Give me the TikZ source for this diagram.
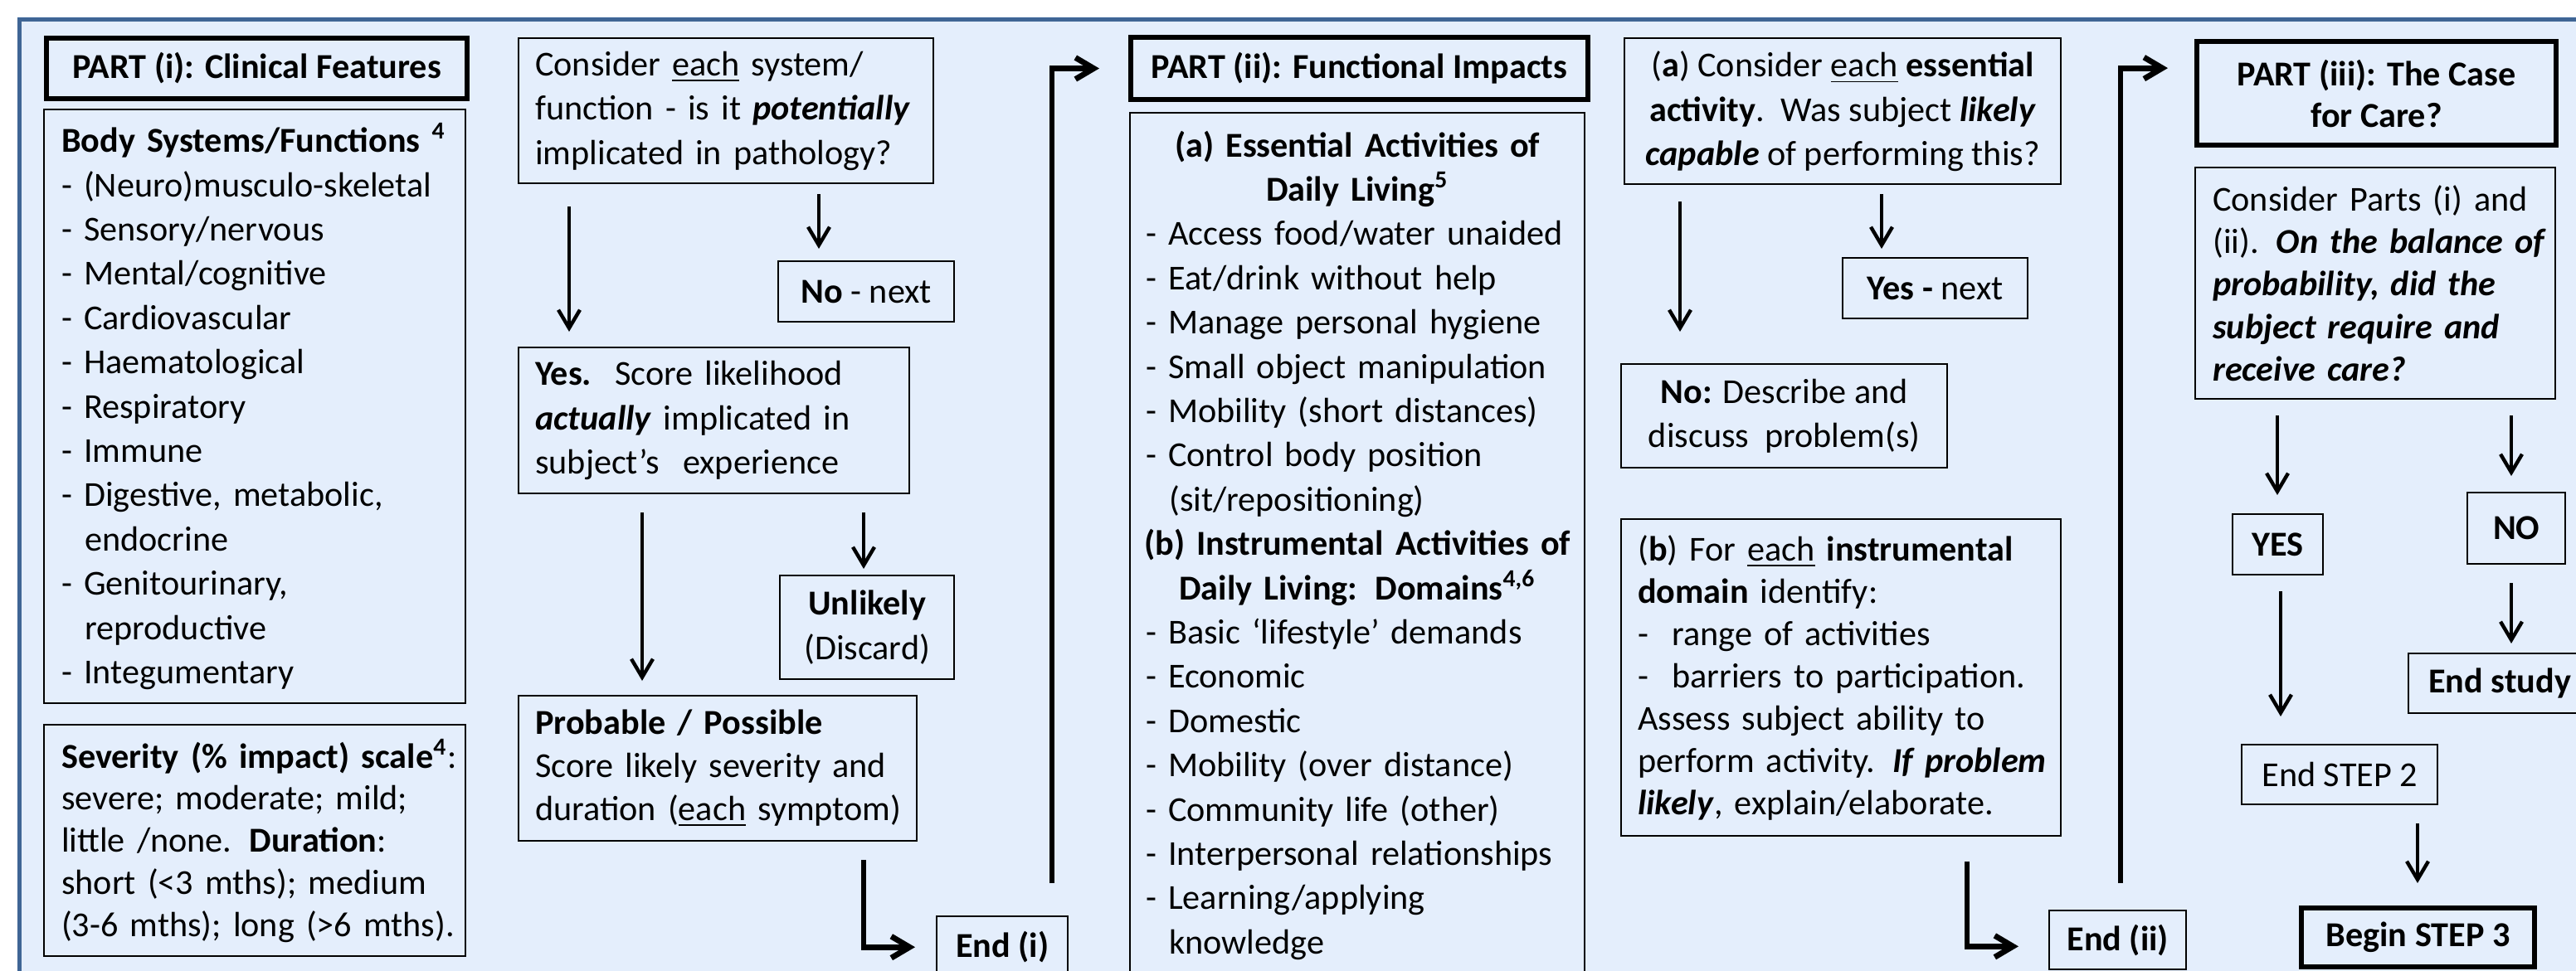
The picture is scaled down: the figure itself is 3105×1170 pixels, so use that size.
\documentclass[tikz,border=0pt]{standalone}
\usepackage{fontspec}
\setmainfont{Carlito}
\usetikzlibrary{arrows.meta}
\definecolor{bgfill}{HTML}{E4EEFC}
\definecolor{frameblue}{HTML}{3F6595}
\newcommand\myfs{\fontsize{10.55pt}{13.35pt}\selectfont}
\begin{document}
\begin{tikzpicture}[x=0.25pt, y=-0.25pt,
  bx/.style={draw, line width=0.6pt, anchor=north west, inner sep=0pt, font=\myfs},
  tbx/.style={bx, line width=1.5pt},
  arr/.style={line width=1.1pt, -{Straight Barb[length=5.5pt,width=6.5pt]}},
  thk/.style={line width=1.7pt, -{Straight Barb[length=5.5pt,width=6.5pt]}}]
\useasboundingbox (0,0) rectangle (3105,1170);
\clip (0,0) rectangle (3105,1170);
\fill[bgfill] (21,20) rectangle (3150,1200);
\draw[frameblue, line width=1.25pt] (23.5,1200) -- (23.5,23.5) -- (3150,23.5);

% ---------- PART (i)
\node[tbx, minimum width=126.75pt, minimum height=18.25pt] (p1) at (53,43) {\bfseries PART (i): Clinical Features};
\node[bx, text width=127pt, minimum height=179pt, align=left] (body) at (52,131) {\leftskip=5.25pt
\textbf{Body Systems/Functions \textsuperscript{4}}\\
- (Neuro)musculo-skeletal\\
- Sensory/nervous\\
- Mental/cognitive\\
- Cardiovascular\\
- Haematological\\
- Respiratory\\
- Immune\\
- Digestive, metabolic,\\
\hspace*{7pt}endocrine\\
- Genitourinary,\\
\hspace*{7pt}reproductive\\
- Integumentary\par};
\node[bx, text width=127pt, minimum height=69.75pt, align=left, font=\fontsize{10.55pt}{12.7pt}\selectfont] (sev) at (52,873) {\leftskip=5.25pt
\textbf{Severity (\% impact) scale\textsuperscript{4}}:\\
severe; moderate; mild;\\
little /none. \textbf{Duration}:\\
short (<3 mths); medium\\
(3-6 mths); long (>6 mths).\par};
\node[bx, text width=125pt, minimum height=43.75pt, align=left] (cons) at (624,45) {\leftskip=5pt
Consider \underline{each} system/\\
function - is it \textbf{\textit{potentially}}\\
implicated in pathology?\par};
\node[bx, minimum width=53pt, minimum height=18.25pt] (nonext) at (937,314) {\textbf{No} - next};
\node[bx, text width=117.75pt, minimum height=44pt, align=left] (yes) at (624,418) {\leftskip=5pt
\textbf{Yes.}\ \ Score likelihood\\
\textbf{\textit{actually}} implicated in\\
subject’s\ \ experience\par};
\node[bx, minimum width=52.5pt, minimum height=31.25pt, align=center] (unlik) at (939,693) {\textbf{Unlikely}\\(Discard)};
\node[bx, text width=120pt, minimum height=43.75pt, align=left, font=\fontsize{10.55pt}{13pt}\selectfont] (prob) at (624,838) {\leftskip=5pt
\textbf{Probable / Possible}\\
Score likely severity and\\
duration (\underline{each} symptom)\par};
\node[bx, minimum width=39.5pt, minimum height=18.5pt] (endi) at (1128,1104) {\textbf{End (i)}};

% ---------- PART (ii)
\node[tbx, minimum width=137.75pt, minimum height=18.75pt] (p2) at (1360,42) {\bfseries PART (ii): Functional Impacts};
\node[bx, text width=137pt, minimum height=260.75pt, align=left] (ess) at (1361,135) {%
{\centering\bfseries (a) Essential Activities of\\Daily Living\textsuperscript{5}\par}
\leftskip=4.75pt
- Access food/water unaided\\
- Eat/drink without help\\
- Manage personal hygiene\\
- Small object manipulation\\
- Mobility (short distances)\\
- Control body position\\
\hspace*{7pt}(sit/repositioning)\par
{\centering\bfseries (b) Instrumental Activities of\\Daily Living: Domains\textsuperscript{4,6}\par}
- Basic ‘lifestyle’ demands\\
- Economic\\
- Domestic\\
- Mobility (over distance)\\
- Community life (other)\\
- Interpersonal relationships\\
- Learning/applying\\
\hspace*{7pt}knowledge\par};
\node[bx, minimum width=131.5pt, minimum height=44pt, align=center] (consa) at (1957,45) {(\textbf{a}) Consider \underline{each} \textbf{essential}\\\textbf{activity}.\ \ Was subject \textbf{\textit{likely}}\\\textbf{\textit{capable}} of performing this?};
\node[bx, minimum width=55.75pt, minimum height=18.25pt] (yesnext) at (2220,310) {\textbf{Yes -} next};
\node[bx, minimum width=98.25pt, minimum height=31.25pt, align=center] (nodesc) at (1953,438) {\textbf{No:} Describe and\\discuss\ \ problem(s)};
\node[bx, text width=132.5pt, minimum height=95.5pt, align=left, font=\fontsize{10.55pt}{12.75pt}\selectfont] (bbox) at (1953,625) {\leftskip=5pt
(\textbf{b}) For \underline{each} \textbf{instrumental}\\
\textbf{domain} identify:\\
-\ \ range of activities\\
-\ \ barriers to participation.\\
Assess subject ability to\\
perform activity. \textbf{\textit{If problem}}\\
\textbf{\textit{likely}}, explain/elaborate.\par};
\node[bx, minimum width=41.25pt, minimum height=17.75pt] (endii) at (2469,1097) {\textbf{End (ii)}};

% ---------- PART (iii)
\node[tbx, minimum width=108.25pt, minimum height=31.25pt, align=center, font=\fontsize{10.55pt}{12.5pt}\selectfont\bfseries] (p3) at (2645,47) {PART (iii): The Case\\for Care?};
\node[bx, text width=108.5pt, minimum height=69.75pt, align=left, font=\fontsize{10.55pt}{12.8pt}\selectfont] (consp) at (2645,201) {\leftskip=5.25pt
Consider Parts (i) and\\
(ii). \textbf{\textit{On the balance of}}\\
\textbf{\textit{probability, did the}}\\
\textbf{\textit{subject require and}}\\
\textbf{\textit{receive care?}}\par};
\node[bx, minimum width=27.25pt, minimum height=18.25pt] (yesb) at (2690,619) {\textbf{YES}};
\node[bx, minimum width=29.5pt, minimum height=21.5pt] (nob) at (2973,593) {\textbf{NO}};
\node[bx, minimum width=55pt, minimum height=18pt] (endstudy) at (2902,787) {\textbf{End study}};
\node[bx, minimum width=59pt, minimum height=18pt] (endstep2) at (2701,897) {End STEP 2};
\node[tbx, minimum width=70.25pt, minimum height=17.75pt] (begin3) at (2771,1092) {\textbf{Begin STEP 3}};

% ---------- connectors
\coordinate (s1) at (1268,1065);
\coordinate (s2) at (2556,1065);
\draw[arr, shorten <=6.75pt, shorten >=4.5pt] (cons.south -| 686,0) -- (yes.north -| 686,0);
\draw[arr, shorten <=3pt, shorten >=3.5pt] (cons.south -| 987,0) -- (nonext.north -| 987,0);
\draw[arr, shorten <=5.5pt, shorten >=4.25pt] (yes.south -| 774,0) -- (prob.north -| 774,0);
\draw[arr, shorten <=5.5pt, shorten >=1.75pt] (yes.south -| 1041,0) -- (unlik.north -| 1041,0);
\draw[thk, shorten <=5.5pt, shorten >=6.25pt] (prob.south -| 1041,0) |- (endi.west);
\draw[thk, shorten >=8.75pt] (s1) |- (p2.west);

\draw[arr, shorten <=5pt, shorten >=9.5pt] (consa.south -| 2025,0) -- (nodesc.north -| 2025,0);
\draw[arr, shorten <=2.75pt, shorten >=2.5pt] (consa.south -| 2268,0) -- (yesnext.north -| 2268,0);
\draw[thk, shorten <=7.5pt, shorten >=9pt] (bbox.south -| 2371,0) |- ([yshift=-1.9pt]endii.west);
\draw[thk, shorten >=8pt] (s2) |- ([yshift=7.6pt]p3.west);

\draw[arr, shorten <=4.75pt, shorten >=5.5pt] (consp.south -| 2745,0) -- (yesb.north -| 2745,0);
\draw[arr, shorten <=4.75pt, shorten >=4.75pt] (consp.south -| 3027,0) -- (nob.north -| 3027,0);
\draw[arr, shorten <=4.75pt, shorten >=8.25pt] (yesb.south -| 2749,0) -- (endstep2.north -| 2749,0);
\draw[arr, shorten <=5.5pt, shorten >=2.75pt] (nob.south -| 3027,0) -- (endstudy.north -| 3027,0);
\draw[arr, shorten <=5.5pt, shorten >=6.75pt] (endstep2.south -| 2914,0) -- (begin3.north -| 2914,0);
\end{tikzpicture}
\end{document}
